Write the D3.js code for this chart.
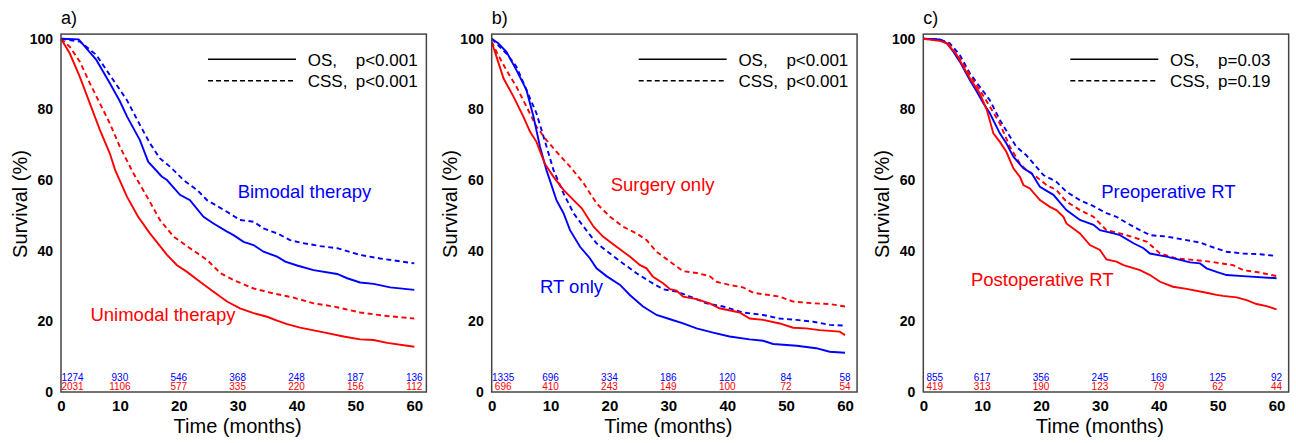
<!DOCTYPE html>
<html>
<head>
<meta charset="utf-8">
<script src="https://cdn.jsdelivr.net/npm/d3@7"></script>
<style>
    body { margin: 0; background: #fff; }
    svg text { font-family: "Liberation Sans", Arial, Helvetica, sans-serif; }
</style>
</head>
<body>
<div id="chart"></div>
<script>

// x axis ticks and number-at-risk times (months)
const timeTicks = [0, 10, 20, 30, 40, 50, 60];
const survTicks = [0, 20, 40, 60, 80, 100];

// a) bimodal vs unimodal therapy, [month, survival %]
const aBimodalOS = [[0,100],[3,99.8],[6,94],[8.3,87.4],[10,82.3],[11.2,78],[13.4,71.3],[14.8,65.2],[17.1,61],[18,60],[20.2,55.8],[21.9,54.3],[24.2,49.6],[25.9,47.7],[28.2,45.4],[29.3,44.4],[31,42.5],[32.7,41.6],[34.4,39.7],[36.7,38.3],[38.1,36.9],[40.1,35.8],[42.9,34.5],[46.9,33.4],[48.6,32.2],[50.8,31],[53.1,30.6],[55.9,29.6],[60,28.9]];
const aBimodalCSS = [[0,100],[3.2,99.2],[6,95.4],[8.3,89.7],[11.2,82.6],[13.4,75.6],[15.1,70.4],[16.8,66.1],[18.5,63.8],[20.8,60],[23.1,57.2],[24.8,54.3],[28.2,51],[30.4,48.7],[32.7,48.2],[34.4,46.3],[36.7,44.9],[38.9,43],[40.6,42.3],[44,41.3],[46.9,40.7],[50.8,38.8],[54.2,37.8],[60,36.4]];
const aUnimodalOS = [[0,100],[1.5,95.8],[3.2,89.2],[4.9,81.7],[6.6,74.2],[8.3,67.5],[9.2,62.8],[11.2,55.3],[13.1,49.6],[15.1,44.9],[18,38.8],[19.7,35.9],[21.4,34],[23.6,31.2],[25.9,28.4],[28.2,25.6],[30.4,23.7],[32.7,22.3],[35,21.3],[36.7,20.2],[38.4,19.2],[40.6,18.2],[44,17.1],[48,15.7],[50.8,14.9],[53.1,14.7],[55.4,13.9],[60,12.8]];
const aUnimodalCSS = [[0,100],[1.5,97.7],[3.2,93.5],[4.9,87.4],[6.6,81.7],[8.3,76],[10,69.4],[12.3,61.9],[14.6,55.3],[16.8,48.7],[19.1,44],[21.9,40.7],[24.8,37.4],[27.1,33.6],[29.3,31.7],[32.7,29.3],[36.1,27.9],[39.5,26.7],[42.9,25.1],[46.3,24.2],[50.8,22.5],[55.4,21.5],[60,20.8]];
const aRiskBlue = [1274, 930, 546, 368, 248, 187, 136];
const aRiskRed = [2031, 1106, 577, 335, 220, 156, 112];

// b) RT only vs surgery only
const bRtOS = [[0,100],[1.1,98.7],[2.5,96.3],[4.2,91.1],[5.9,85.5],[7.1,77.9],[8.2,69.4],[9.3,62.8],[11,54.3],[12.2,50.6],[13.3,45.8],[15,41.1],[16.7,37.8],[17.8,35],[19.5,32.8],[21.8,30.3],[23.5,27.4],[25.7,24.2],[28,21.8],[30.3,20.6],[32.5,19.4],[34.8,18],[37.6,16.8],[40.4,15.7],[43.8,14.9],[46.1,14.5],[47.8,13.6],[51.8,13.1],[55.1,12.4],[57.4,11.4],[60,11.1]];
const bRtCSS = [[0,100],[2.5,95.8],[4.2,92.1],[5.9,85.5],[7.6,78.9],[8.8,72.3],[10.5,62.8],[12.2,56.2],[13.9,50.6],[15.6,46.8],[17.8,42.1],[20.1,39.2],[22.3,36.4],[24.6,33.6],[26.9,31.2],[29.1,29.1],[31.4,28.4],[33.7,27],[36.5,25.1],[39.3,24.2],[42.7,22.5],[46.1,21.8],[48.9,20.8],[51.8,20.4],[54.6,19.9],[57.4,19],[60,18.8]];
const bSurgeryOS = [[0,99],[0.8,95],[2,88.8],[3.7,83.6],[5.4,77.9],[6.5,73.7],[7.6,70.8],[9,64.7],[10.5,60.9],[12.2,57.2],[13.9,54.3],[15.3,52],[17.3,46.8],[18.9,44],[21.2,41.1],[23.5,38.3],[25.2,35.9],[26.3,35],[27.4,32.6],[29.1,30.8],[30.3,29.1],[31.4,28.7],[32.5,27],[34.8,26.3],[37,25.1],[38.7,23.7],[42.1,22.5],[43.8,20.8],[46.1,20.4],[48.9,19.4],[51.2,18.2],[53.4,18],[55.7,17.5],[59.1,17.1],[60,16.1]];
const bSurgeryCSS = [[0,99.2],[0.8,96.3],[2.5,91.1],[4.2,86.4],[5.9,80.8],[7.6,75.1],[9.3,71.3],[11,68],[13.3,63.8],[15.6,59.1],[17.8,53.4],[20.1,49.6],[22.3,46.8],[24.6,44.9],[26.3,43],[28,39.7],[30.3,36.9],[32.5,34.2],[34.8,33.7],[37,32.8],[38.2,31.2],[40.4,30.3],[42.7,29.6],[44.4,28.1],[48.9,27],[51.2,25.6],[54.6,25.1],[57.4,24.9],[60,24.2]];
const bRiskBlue = [1335, 696, 334, 186, 120, 84, 58];
const bRiskRed = [696, 410, 243, 149, 100, 72, 54];

// c) preoperative vs postoperative RT
const cPreOS = [[0,100],[2.8,99.8],[4,98.7],[5.1,96.3],[6.2,93.5],[7.9,88.3],[9.1,85],[10.2,81.7],[11.3,78.9],[13,73.2],[14.1,70.4],[15.3,66.6],[17,63.3],[18.4,61.9],[19.8,58.1],[22.1,55.8],[24.3,51.5],[26.6,48.7],[28.9,47.3],[30,45.8],[32.3,44.9],[33.4,44.4],[35.7,42.1],[37.4,40.7],[38.5,39.2],[41.3,38.3],[43.6,37.4],[45.3,36.7],[47,36.4],[48.1,35],[49.8,34],[51.5,33.1],[54.3,32.8],[60,32.2]];
const cPreCSS = [[0,100],[2.8,99.8],[4.5,98.7],[6.2,95.4],[7.9,90.2],[9.6,86.4],[11.3,82.6],[13,77],[14.7,72.3],[15.8,69.4],[17.5,67],[18.7,64.7],[20.4,61.4],[22.6,59.5],[24.3,56.7],[26.6,54.3],[28.9,52.6],[31.1,50.6],[32.8,49.6],[34.5,47.9],[36.8,45.8],[38.5,44.4],[41.3,44],[44.7,43],[47,42.3],[49.3,40.9],[51.5,39.7],[54.3,39.2],[57.2,39],[60,38.5]];
const cPostOS = [[0,100],[2.8,99.4],[4,98.7],[5.7,95.4],[6.8,92.1],[7.9,88.8],[9.6,84.5],[10.8,79.8],[11.9,73.2],[13,70.8],[14.1,68],[15.3,63.3],[16.4,60.9],[17,58.6],[18.1,57.6],[19.8,54.3],[21.5,52.4],[22.6,51.5],[23.8,49.6],[24.3,47.7],[26.6,44.9],[28.3,41.6],[30,40.2],[31.1,37.5],[32.8,36.9],[34,35.9],[36.8,34.5],[38.5,33.1],[40.2,31.2],[42.4,29.8],[44.7,29.2],[48.1,28.1],[49.8,27.5],[50.9,27.2],[53.2,26.8],[54.9,26],[56.6,24.9],[58.3,24.3],[60,23.4]];
const cPostCSS = [[0,100],[4,99.2],[6.2,94.4],[7.9,89.7],[9.6,85.5],[11.3,80.8],[13,76],[14.7,69.4],[16.4,64.7],[17.5,62.8],[19.2,60.9],[20.9,58.6],[22.6,57.2],[24.3,53.9],[26.6,51.5],[28.9,49.6],[30,47.7],[31.1,45.8],[33.4,44.9],[35.7,43.8],[38,42.5],[40.2,39.2],[43,37.8],[45.8,37.4],[48.7,36.9],[52.6,35.9],[54.3,34.5],[57.2,33.8],[60,32.8]];
const cRiskBlue = [855, 617, 356, 245, 169, 125, 92];
const cRiskRed = [419, 313, 190, 123, 79, 62, 44];

const panels = [
    {
        tag: 'a)', pOS: 'p<0.001', pCSS: 'p<0.001',
        blueOS: aBimodalOS, blueCSS: aBimodalCSS, redOS: aUnimodalOS, redCSS: aUnimodalCSS,
        riskBlue: aRiskBlue, riskRed: aRiskRed,
        blueLabel: ['Bimodal therapy', 30, 54.9], redLabel: ['Unimodal therapy', 5, 20.1]
    },
    {
        tag: 'b)', pOS: 'p<0.001', pCSS: 'p<0.001',
        blueOS: bRtOS, blueCSS: bRtCSS, redOS: bSurgeryOS, redCSS: bSurgeryCSS,
        riskBlue: bRiskBlue, riskRed: bRiskRed,
        blueLabel: ['RT only', 8.2, 28], redLabel: ['Surgery only', 20.2, 56.9]
    },
    {
        tag: 'c)', pOS: 'p=0.03', pCSS: 'p=0.19',
        blueOS: cPreOS, blueCSS: cPreCSS, redOS: cPostOS, redCSS: cPostCSS,
        riskBlue: cRiskBlue, riskRed: cRiskRed,
        blueLabel: ['Preoperative RT', 30.2, 55], redLabel: ['Postoperative RT', 8.1, 30]
    }
];

const
    W = 1296,
    H = 443,
    BLUE = '#0000ff',
    RED = '#ff0000',
    DASH = '5,3.5',
    panelLeft = [61, 491.7, 923.3],
    plotW = 353.3,     // width of 0..60 months
    yTop = 38.7,       // y of 100 %
    yBottom = 392;     // y of 0 %

let svg = d3.select('#chart')
    .append('svg')
    .attr('width', W)
    .attr('height', H);

panels.forEach(function (p, i) {

    let
        x0 = panelLeft[i],
        x = d3.scaleLinear().domain([0, 60]).range([x0, x0 + plotW]),
        y = d3.scaleLinear().domain([0, 100]).range([yBottom, yTop]),
        g = svg.append('g');

    // panel tag
    g.append('text')
        .attr('x', x0)
        .attr('y', 23.5)
        .style('font-size', '18px')
        .text(p.tag);

    // axes without domain line, frame drawn separately
    let xAxis = g.append('g')
        .attr('transform', 'translate(0,' + yBottom + ')')
        .call(d3.axisBottom(x).tickValues(timeTicks).tickSize(0).tickPadding(8));

    let yAxis = g.append('g')
        .attr('transform', 'translate(' + x0 + ',0)')
        .call(d3.axisLeft(y).tickValues(survTicks).tickSize(0).tickPadding(8));

    [xAxis, yAxis].forEach(function (a) {
        a.select('.domain').remove();
        a.selectAll('text')
            .style('font-family', '"Liberation Sans", Arial, sans-serif')
            .style('font-weight', 'bold')
            .style('fill', '#000');
    });
    xAxis.selectAll('text').style('font-size', '15px');
    yAxis.selectAll('text').style('font-size', '14px');

    // axis titles
    g.append('text')
        .attr('x', x(30))
        .attr('y', 433)
        .attr('text-anchor', 'middle')
        .style('font-size', '20px')
        .text('Time (months)');

    g.append('text')
        .attr('transform', 'translate(' + (x0 - 34.3) + ',204) rotate(-90)')
        .attr('text-anchor', 'middle')
        .style('font-size', '20px')
        .text('Survival (%)');

    // curves
    let line = d3.line()
        .x(d => x(d[0]))
        .y(d => y(d[1]));

    let curves = [
        [p.blueCSS, BLUE, true],
        [p.redCSS, RED, true],
        [p.blueOS, BLUE, false],
        [p.redOS, RED, false]
    ];

    curves.forEach(function (c) {
        g.append('path')
            .datum(c[0])
            .attr('d', line)
            .style('fill', 'none')
            .style('stroke', c[1])
            .style('stroke-width', 1.9)
            .style('stroke-dasharray', c[2] ? DASH : null);
    });

    // curve labels
    [[p.blueLabel, BLUE], [p.redLabel, RED]].forEach(function (l) {
        g.append('text')
            .attr('x', x(l[0][1]))
            .attr('y', y(l[0][2]))
            .style('font-size', '18.5px')
            .style('fill', l[1])
            .text(l[0][0]);
    });

    // number at risk
    [[p.riskBlue, BLUE, 381], [p.riskRed, RED, 390]].forEach(function (r) {
        g.selectAll(null)
            .data(r[0])
            .enter()
            .append('text')
            .attr('x', (d, k) => k === 0 ? x(timeTicks[k]) + 11.5 : x(timeTicks[k]))
            .attr('y', r[2])
            .attr('text-anchor', 'middle')
            .style('font-size', '10px')
            .style('fill', r[1])
            .text(d => d);
    });

    // legend
    [['OS,', p.pOS, 59.3, 66, null], ['CSS,', p.pCSS, 80.7, 87.3, '5,3']].forEach(function (l) {
        g.append('line')
            .attr('x1', x0 + 147)
            .attr('x2', x0 + 235)
            .attr('y1', l[2])
            .attr('y2', l[2])
            .style('stroke', '#000')
            .style('stroke-width', 1.4)
            .style('stroke-dasharray', l[4]);

        g.append('text')
            .attr('x', x0 + 246.7)
            .attr('y', l[3])
            .style('font-size', '17px')
            .text(l[0]);

        g.append('text')
            .attr('x', x0 + 294.7)
            .attr('y', l[3])
            .style('font-size', '17px')
            .text(l[1]);
    });

    // frame
    g.append('rect')
        .attr('x', x0)
        .attr('y', y(101.3))
        .attr('width', x(62.05) - x0)
        .attr('height', yBottom - y(101.3))
        .style('fill', 'none')
        .style('stroke', '#444')
        .style('stroke-width', 1.5);
});

</script>
</body>
</html>
